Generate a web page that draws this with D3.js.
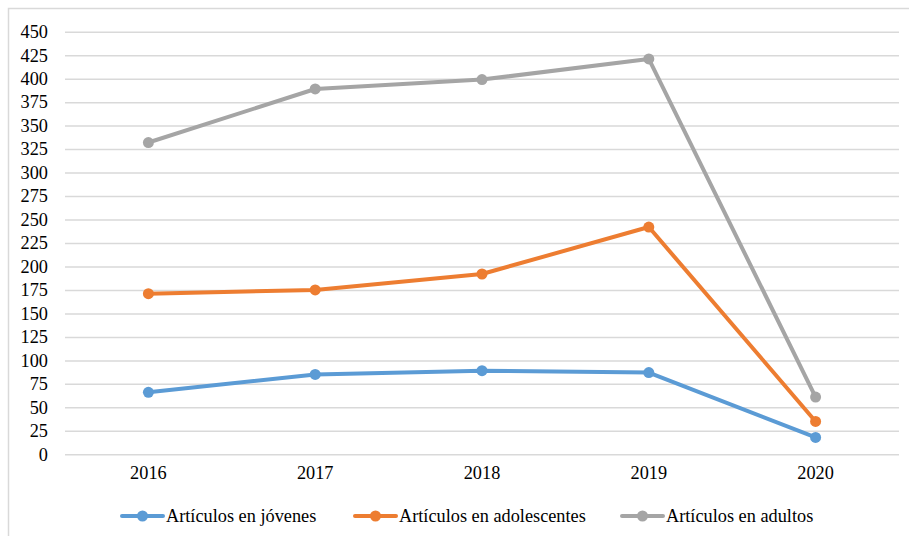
<!DOCTYPE html>
<html>
<head>
<meta charset="utf-8">
<script src="https://cdn.jsdelivr.net/npm/d3@7"></script>
<style>
  html, body { margin: 0; padding: 0; background: #fff; }
  svg { display: block; }
  svg text { font-family: "Liberation Serif", "Times New Roman", Times, "DejaVu Serif", serif !important; fill: #000; }
</style>
</head>
<body>
<svg id="chart" width="909" height="536"></svg>
<script>
// Yearly article counts per population group
const years = ["2016", "2017", "2018", "2019", "2020"];
const jovenes = [66, 85, 89, 87, 18];
const adolescentes = [171, 175, 192, 242, 35];
const adultos = [332, 389, 399, 421, 61];
const seriesNames = ["Artículos en jóvenes", "Artículos en adolescentes", "Artículos en adultos"];
const seriesColors = ["#5B9BD5", "#ED7D31", "#A5A5A5"];
const yTicks = d3.range(0, 451, 25);

const series = [jovenes, adolescentes, adultos].map((values, i) => ({
  name: seriesNames[i],
  color: seriesColors[i],
  values: values.map((v, j) => ({ year: years[j], value: v }))
}));

const serifFont = "'Liberation Serif', 'Times New Roman', Times, serif";
const fontSize = 18.3;
const svg = d3.select("#chart");
const W = 909, H = 536;
const plot = { left: 65, right: 899, top: 31.7, bottom: 454.3 };

// chart frame
svg.append("rect")
  .attr("x", 8.5).attr("y", 8.5)
  .attr("width", W + 10).attr("height", H + 10)
  .attr("fill", "none").attr("stroke", "#D9D9D9").attr("stroke-width", 1.5);

const x = d3.scaleBand().domain(years).range([plot.left, plot.right]);
const y = d3.scaleLinear().domain([0, 450]).range([plot.bottom, plot.top]);

// horizontal gridlines + value axis labels
const yAxis = d3.axisLeft(y).tickValues(yTicks).tickSize(-(plot.right - plot.left)).tickPadding(17);
const gy = svg.append("g").attr("transform", `translate(${plot.left},0)`).call(yAxis)
  .attr("font-family", serifFont).attr("font-size", fontSize);
gy.select(".domain").remove();
gy.selectAll(".tick line").attr("stroke", "#D9D9D9").attr("stroke-width", 1.5);
gy.selectAll(".tick text").attr("fill", "#000");

// category axis labels
const xAxis = d3.axisBottom(x).tickSize(0).tickPadding(12);
const gx = svg.append("g").attr("transform", `translate(0,${plot.bottom})`).call(xAxis)
  .attr("font-family", serifFont).attr("font-size", fontSize);
gx.select(".domain").remove();
gx.selectAll(".tick text").attr("fill", "#000");

const line = d3.line()
  .x(d => x(d.year) + x.bandwidth() / 2)
  .y(d => y(d.value));

const g = svg.append("g");
series.forEach(s => {
  g.append("path")
    .datum(s.values)
    .attr("fill", "none")
    .attr("stroke", s.color)
    .attr("stroke-width", 4)
    .attr("stroke-linejoin", "round")
    .attr("d", line);
  g.selectAll(null)
    .data(s.values)
    .enter().append("circle")
    .attr("cx", d => x(d.year) + x.bandwidth() / 2)
    .attr("cy", d => y(d.value))
    .attr("r", 5.5)
    .attr("fill", s.color);
});

// legend
const legendX = [122, 355, 622];
const legendY = 516;
const lg = svg.append("g").attr("font-family", serifFont).attr("font-size", fontSize);
series.forEach((s, i) => {
  const item = lg.append("g").attr("transform", `translate(${legendX[i]},${legendY})`);
  item.append("line").attr("x1", 0).attr("x2", 41).attr("y1", 0).attr("y2", 0)
    .attr("stroke", s.color).attr("stroke-width", 4).attr("stroke-linecap", "round");
  item.append("circle").attr("cx", 20.5).attr("cy", 0).attr("r", 5.5).attr("fill", s.color);
  item.append("text").attr("x", 44).attr("y", 0).attr("dy", "0.35em").text(s.name);
});
</script>
</body>
</html>
